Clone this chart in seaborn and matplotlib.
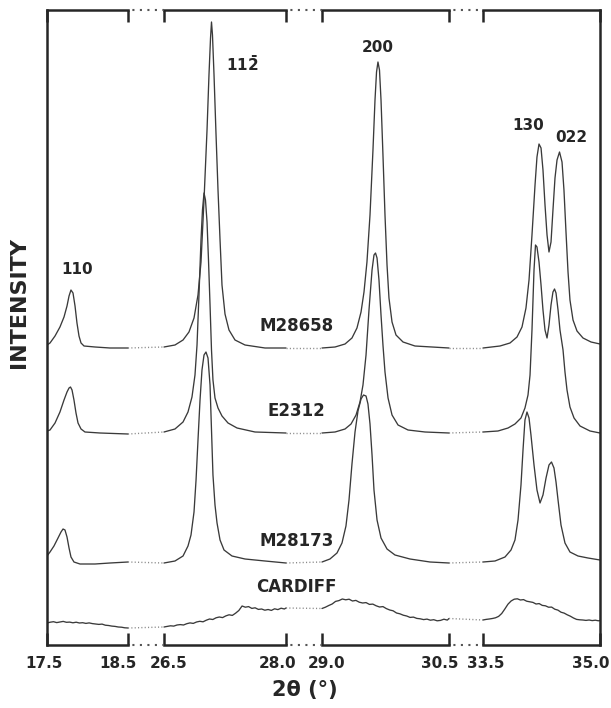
import numpy as np
import pandas as pd
import matplotlib
matplotlib.use("Agg")
import matplotlib.pyplot as plt
import matplotlib.transforms as mtransforms
import seaborn as sns

# ---------------- data ----------------
segments = [(17.5, 18.5), (26.5, 28.0), (29.0, 30.5), (33.5, 35.0)]
tick_values = [17.5, 18.5, 26.5, 28.0, 29.0, 30.5, 33.5, 35.0]
tick_labels = ["17.5", "18.5", "26.5", "28.0", "29.0", "30.5", "33.5", "35.0"]
sample_names = ["M28658", "E2312", "M28173", "CARDIFF"]
reflections = ["110", r"$\mathbf{11\bar{2}}$", "200", "130", "022"]

m28658_2theta = [
    17.500, 17.537, 17.599, 17.660, 17.710, 17.747, 17.772, 17.796, 17.821, 17.846, 17.870, 17.895, 17.920, 17.957, 18.093, 18.278, 18.500,
    26.500, 26.635, 26.734, 26.807, 26.869, 26.918, 26.955, 26.992, 27.029, 27.053, 27.072, 27.084, 27.096, 27.115, 27.139, 27.164, 27.189, 27.213, 27.250, 27.299, 27.373, 27.496, 27.742, 28.000,
    29.000, 29.154, 29.272, 29.354, 29.413, 29.461, 29.496, 29.531, 29.567, 29.602, 29.626, 29.644, 29.661, 29.679, 29.697, 29.720, 29.744, 29.768, 29.791, 29.827, 29.874, 29.957, 30.098, 30.500,
    33.500, 33.718, 33.846, 33.936, 34.000, 34.051, 34.090, 34.128, 34.167, 34.192, 34.218, 34.244, 34.269, 34.295, 34.321, 34.346, 34.372, 34.397, 34.423, 34.449, 34.481, 34.513, 34.538, 34.564, 34.590, 34.615, 34.654, 34.705, 34.782, 34.885, 35.000,
]
m28658_int = [
    3, 5, 12, 21, 31, 42, 52, 58, 55, 42, 25, 12, 5, 2, 1, 0, 0,
    1, 3, 8, 16, 30, 53, 86, 148, 218, 273, 310, 326, 313, 273, 215, 158, 108, 63, 34, 18, 8, 3, 0, 0,
    0, 1, 4, 10, 20, 36, 56, 86, 133, 198, 248, 276, 286, 278, 248, 193, 133, 83, 50, 26, 13, 6, 2, 0,
    0, 2, 5, 11, 21, 40, 68, 113, 163, 191, 204, 200, 178, 143, 113, 96, 106, 138, 170, 188, 196, 186, 158, 116, 76, 48, 28, 17, 10, 6, 4,
]

e2312_2theta = [
    17.500, 17.537, 17.599, 17.660, 17.710, 17.747, 17.772, 17.790, 17.809, 17.833, 17.858, 17.883, 17.920, 17.969, 18.154, 18.500,
    26.500, 26.635, 26.734, 26.795, 26.844, 26.881, 26.906, 26.930, 26.955, 26.973, 26.992, 27.010, 27.029, 27.047, 27.066, 27.084, 27.102, 27.127, 27.164, 27.213, 27.287, 27.398, 27.619, 28.000,
    29.000, 29.154, 29.272, 29.343, 29.402, 29.449, 29.484, 29.520, 29.555, 29.591, 29.614, 29.632, 29.650, 29.673, 29.697, 29.720, 29.744, 29.780, 29.827, 29.898, 30.016, 30.217, 30.500,
    33.500, 33.692, 33.821, 33.910, 33.987, 34.038, 34.077, 34.103, 34.128, 34.154, 34.173, 34.192, 34.218, 34.244, 34.269, 34.295, 34.321, 34.346, 34.372, 34.397, 34.417, 34.436, 34.462, 34.487, 34.526, 34.551, 34.577, 34.615, 34.667, 34.744, 34.872, 35.000,
]
e2312_int = [
    2, 3, 10, 21, 33, 41, 45, 46, 43, 33, 20, 10, 4, 1, 0, -1,
    1, 4, 11, 21, 36, 58, 88, 138, 193, 223, 240, 233, 211, 173, 128, 83, 53, 35, 25, 17, 10, 5, 1, 0,
    0, 1, 4, 9, 18, 31, 48, 78, 123, 163, 178, 180, 175, 153, 118, 88, 61, 35, 18, 8, 3, 1, 0,
    1, 2, 5, 9, 15, 25, 38, 58, 103, 163, 188, 186, 171, 148, 123, 103, 95, 108, 128, 141, 144, 140, 123, 103, 83, 61, 43, 26, 15, 7, 2, 0,
]

m28173_2theta = [
    17.500, 17.537, 17.586, 17.636, 17.673, 17.698, 17.722, 17.747, 17.772, 17.796, 17.833, 17.907, 18.093, 18.278, 18.500,
    26.500, 26.635, 26.734, 26.795, 26.832, 26.869, 26.894, 26.918, 26.943, 26.967, 26.992, 27.016, 27.041, 27.066, 27.084, 27.102, 27.127, 27.152, 27.189, 27.238, 27.336, 27.496, 27.742, 28.000,
    29.000, 29.094, 29.177, 29.236, 29.283, 29.319, 29.354, 29.390, 29.425, 29.461, 29.490, 29.520, 29.543, 29.567, 29.591, 29.614, 29.650, 29.697, 29.768, 29.862, 30.039, 30.276, 30.500,
    33.500, 33.654, 33.782, 33.859, 33.910, 33.949, 33.987, 34.013, 34.038, 34.064, 34.090, 34.115, 34.154, 34.192, 34.231, 34.269, 34.308, 34.346, 34.378, 34.410, 34.436, 34.462, 34.500, 34.551, 34.615, 34.718, 34.846, 35.000,
]
m28173_int = [
    8, 12, 18, 26, 32, 35, 34, 27, 16, 7, 2, 0, 0, 1, 2,
    1, 3, 8, 18, 29, 52, 84, 124, 164, 194, 209, 212, 206, 179, 134, 89, 59, 41, 24, 14, 8, 5, 3, 1,
    2, 5, 11, 21, 38, 64, 100, 132, 153, 165, 169, 168, 160, 140, 109, 74, 44, 26, 15, 9, 5, 2, 1,
    2, 3, 7, 14, 24, 44, 79, 114, 144, 152, 146, 129, 99, 74, 61, 69, 86, 99, 102, 96, 82, 64, 39, 21, 12, 8, 6, 4,
]

cardiff_2theta = [
    17.50, 17.54, 17.58, 17.62, 17.66, 17.70, 17.74, 17.78, 17.82, 17.86, 17.90, 17.94, 17.98, 18.02, 18.06, 18.10, 18.14, 18.18, 18.22, 18.26, 18.30, 18.34, 18.38, 18.42, 18.46, 18.50,
    26.50, 26.54, 26.58, 26.62, 26.66, 26.70, 26.74, 26.78, 26.82, 26.86, 26.90, 26.94, 26.98, 27.02, 27.06, 27.10, 27.14, 27.18, 27.22, 27.26, 27.30, 27.34, 27.38, 27.42, 27.46, 27.50, 27.54, 27.58, 27.62, 27.66, 27.70, 27.74, 27.78, 27.82, 27.86, 27.90, 27.94, 27.98, 28.00,
    29.00, 29.04, 29.08, 29.12, 29.16, 29.20, 29.24, 29.28, 29.32, 29.36, 29.40, 29.44, 29.48, 29.52, 29.56, 29.60, 29.64, 29.68, 29.72, 29.76, 29.80, 29.84, 29.88, 29.92, 29.96, 30.00, 30.04, 30.08, 30.12, 30.16, 30.20, 30.24, 30.28, 30.32, 30.36, 30.40, 30.44, 30.48, 30.50,
    33.50, 33.54, 33.58, 33.62, 33.66, 33.70, 33.74, 33.78, 33.82, 33.86, 33.90, 33.94, 33.98, 34.02, 34.06, 34.10, 34.14, 34.18, 34.22, 34.26, 34.30, 34.34, 34.38, 34.42, 34.46, 34.50, 34.54, 34.58, 34.62, 34.66, 34.70, 34.74, 34.78, 34.82, 34.86, 34.90, 34.94, 34.98, 35.00,
]
cardiff_int = [
    7.0, 7.8, 8.3, 7.4, 8.0, 8.6, 7.7, 7.9, 7.2, 7.8, 7.0, 7.3, 6.6, 7.1, 6.4, 6.0, 5.6, 5.9, 4.8, 4.5, 3.9, 3.6, 3.0, 2.8, 2.2, 2.0,
    3.0, 3.6, 4.2, 3.9, 5.0, 5.4, 5.0, 6.3, 7.1, 6.6, 8.0, 8.7, 8.2, 9.8, 11.0, 10.5, 12.2, 13.0, 12.4, 14.1, 15.2, 14.6, 16.8, 19.5, 24.0, 22.8, 23.4, 21.6, 22.2, 20.6, 21.0, 19.8, 20.5, 19.6, 21.2, 20.4, 21.8, 21.0, 22.0,
    21.5, 22.8, 24.5, 26.0, 28.6, 29.4, 31.0, 30.2, 30.8, 29.0, 29.6, 27.8, 27.0, 27.4, 25.6, 25.9, 24.2, 23.0, 23.4, 21.4, 20.0, 19.2, 17.0, 16.2, 14.8, 14.0, 12.6, 12.9, 11.6, 11.2, 10.4, 10.9, 9.8, 10.3, 9.2, 9.6, 10.8, 9.9, 11.5,
    10.0, 10.6, 11.0, 11.5, 12.2, 13.6, 16.5, 21.0, 25.8, 29.0, 30.8, 31.2, 30.0, 30.4, 28.8, 28.2, 27.6, 26.0, 26.4, 24.6, 24.2, 22.8, 22.9, 20.8, 19.9, 17.8, 16.9, 15.2, 13.8, 12.0, 10.6, 10.2, 10.0, 9.6, 10.0, 9.4, 9.8, 9.2, 9.5,
]

# ---------------- layout (not data) ----------------
FIG_W, FIG_H, DPI = 611, 708, 100
AX_L, AX_R, AX_T, AX_B = 47, 600, 10, 645          # axes box in pixels
knot_px = [0, 81, 117, 239, 275, 402, 436, 553]     # display position of each segment boundary
trace_offsets = [297, 212, 81, 15]                  # vertical stacking of the four patterns
y_top = AX_B - AX_T
tick_dx = [-3, -10, 5, -8, 5, -9, 3, -9]             # pixel nudges of the tick labels
sample_label_pos = [(28.28, 319), (28.28, 234), (28.31, 104), (28.28, 58)]
reflection_pos = [(17.87, 376), (27.46, 581), (29.661, 597), (34.077, 519), (34.628, 507)]

INK = "#262626"
LINE = "#3a3a3a"

sns.set_theme(style="white")
plt.rcParams["font.family"] = ["DejaVu Sans"]
plt.rcParams["mathtext.fontset"] = "dejavusans"

fig = plt.figure(figsize=(FIG_W / DPI, FIG_H / DPI), dpi=DPI)
ax = fig.add_axes([AX_L / FIG_W, (FIG_H - AX_B) / FIG_H,
                   (AX_R - AX_L) / FIG_W, (AX_B - AX_T) / FIG_H])

# broken 2-theta axis as a piecewise-linear matplotlib scale
def fwd(x):
    return np.interp(x, tick_values, knot_px)

def inv(d):
    return np.interp(d, knot_px, tick_values)

ax.set_xscale("function", functions=(fwd, inv))

# ---------------- build tidy frames ----------------
series = [
    (m28658_2theta, m28658_int),
    (e2312_2theta, e2312_int),
    (m28173_2theta, m28173_int),
    (cardiff_2theta, cardiff_int),
]
rows, gaps = [], []
for name, (xs, ys), off in zip(sample_names, series, trace_offsets):
    xs = np.asarray(xs, float)
    ys = np.asarray(ys, float) + off
    ends = []
    for si, (a, b) in enumerate(segments):
        m = (xs >= a) & (xs <= b)
        for x, y in zip(xs[m], ys[m]):
            rows.append({"two_theta": x, "intensity": y, "unit": f"{name}-{si}"})
        ends.append(((xs[m][0], ys[m][0]), (xs[m][-1], ys[m][-1])))
    for si in range(len(segments) - 1):
        (x0, y0) = ends[si][1]
        (x1, y1) = ends[si + 1][0]
        gaps.append({"two_theta": x0, "intensity": y0, "unit": f"{name}-g{si}"})
        gaps.append({"two_theta": x1, "intensity": y1, "unit": f"{name}-g{si}"})
df = pd.DataFrame(rows)
gdf = pd.DataFrame(gaps)

sns.lineplot(data=df, x="two_theta", y="intensity", units="unit", estimator=None,
             sort=False, color=LINE, linewidth=0.95, legend=False, ax=ax)
sns.lineplot(data=gdf, x="two_theta", y="intensity", units="unit", estimator=None,
             sort=False, color="#8a8a8a", linewidth=1.0, linestyle=(0, (0.8, 1.6)),
             legend=False, ax=ax)

ax.set_xlim(segments[0][0], segments[-1][1])
ax.set_ylim(0, y_top)

# ---------------- broken frame ----------------
for side in ("top", "bottom"):
    ax.spines[side].set_visible(False)
for side in ("left", "right"):
    ax.spines[side].set_linewidth(1.8)
    ax.spines[side].set_color(INK)

xt = ax.get_xaxis_transform()
for yy in (0, 1):
    for a, b in segments:
        ax.plot([a, b], [yy, yy], transform=xt, color=INK, lw=1.8,
                solid_capstyle="projecting", clip_on=False)
    for (a0, b0), (a1, b1) in zip(segments[:-1], segments[1:]):
        ax.plot([b0, a1], [yy, yy], transform=xt, color="#555555", lw=1.5,
                linestyle=(1.5, (1, 2.6)), clip_on=False)

ax.set_xticks(tick_values)
ax.tick_params(axis="x", which="major", direction="in", length=8.6, width=1.8,
               color=INK, top=True, bottom=True, labelbottom=False, labeltop=False)
ax.minorticks_off()
ax.set_yticks([])
ax.set_xlabel("")
ax.set_ylabel("")

for v, lab, dx in zip(tick_values, tick_labels, tick_dx):
    tr = xt + mtransforms.ScaledTranslation(dx / DPI, -18 / DPI, fig.dpi_scale_trans)
    ax.text(v, 0, lab, transform=tr, ha="center", va="center",
            fontsize=11, fontweight="bold", color=INK)

# ---------------- annotations ----------------
for name, (x, y) in zip(sample_names, sample_label_pos):
    ax.text(x, y, name, ha="center", va="center", fontsize=12,
            fontweight="bold", color=INK)
for lab, (x, y) in zip(reflections, reflection_pos):
    ax.text(x, y, lab, ha="center", va="center", fontsize=11,
            fontweight="bold", color=INK)

fig.text(19.5 / FIG_W, 1 - 302 / FIG_H, "INTENSITY", rotation=90,
         ha="center", va="center", fontsize=16, fontweight="bold", color=INK)
fig.text(305 / FIG_W, 1 - 690 / FIG_H, "2θ (°)", ha="center", va="center",
         fontsize=15, fontweight="bold", color=INK)

fig.savefig("out.png", dpi=DPI)
